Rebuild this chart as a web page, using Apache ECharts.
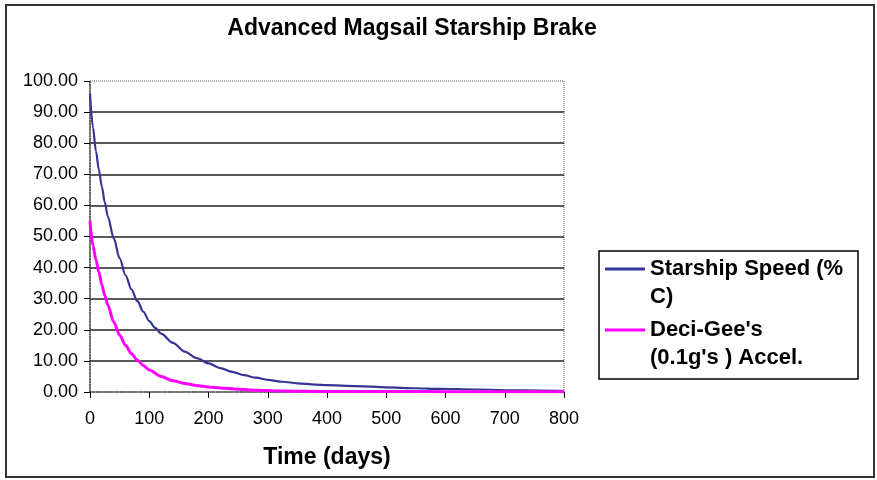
<!DOCTYPE html>
<html>
<head>
<meta charset="utf-8">
<title>Advanced Magsail Starship Brake</title>
<script src="https://cdn.jsdelivr.net/npm/echarts@6/dist/echarts.min.js"></script>
<style>
  html, body { margin: 0; padding: 0; background: #fff; }
  #chart { width: 877px; height: 480px; }
</style>
</head>
<body>
<div id="chart"></div>
<script>
// 数据
const speedDays = [0, 5, 10, 15, 20, 25, 30, 40, 50, 60, 70, 80, 90, 100, 110, 120, 140, 160, 180, 200,
  220, 240, 260, 280, 300, 325, 350, 380, 400, 450, 500, 550, 590, 650, 730, 800]
const speedValues = [96, 85, 77.5, 71.5, 66, 61, 56.5, 49.5, 43, 37.5, 33, 29.2, 25.8, 22.8, 20.6, 18.8, 15.8, 13, 10.9, 9.2,
  7.7, 6.5, 5.4, 4.6, 3.9, 3.3, 2.8, 2.4, 2.2, 1.9, 1.5, 1.2, 1.0, 0.8, 0.5, 0.3]

const accelDays = [0, 5, 10, 15, 20, 25, 30, 40, 50, 60, 70, 80, 90, 100, 120, 140, 160, 180, 200, 220,
  250, 280, 320, 400, 500, 600, 700, 800]
const accelValues = [55, 47, 42.5, 38.5, 34.5, 31, 28, 22.5, 18.3, 15, 12.3, 10.2, 8.5, 7.1, 5, 3.6, 2.7, 2.1, 1.6, 1.3,
  0.9, 0.6, 0.35, 0.2, 0.15, 0.1, 0.1, 0.1]

const seriesNames = ["Starship Speed (% C)", "Deci-Gee's (0.1g's ) Accel."]
const legendLabels = ['Starship Speed (%\nC)', "Deci-Gee's\n(0.1g's ) Accel."]
const colors = ['#353595', '#ff00ff']

const font = 'Arial, "Liberation Sans", sans-serif'
// 图例图标: 线段在第一行高度 (加极小点撑开高度)
const legendIcon = 'path://M0,0h0.01v0.01h-0.01z M0,12.5H40V15.5H0Z M0,55.99h0.01V56h-0.01z'

const zip = (xs, ys) => xs.map((x, i) => [x, ys[i]])

const chart = echarts.init(document.getElementById('chart'))

const option = {
  backgroundColor: '#fff',
  animation: false,
  color: colors,
  title: {
    text: 'Advanced Magsail Starship Brake',
    left: 412,
    top: 17,
    padding: 0,
    textAlign: 'center',
    textStyle: { fontFamily: font, fontSize: 23, fontWeight: 'bold', color: '#000' }
  },
  grid: {
    left: 90, right: 313, top: 81, bottom: 88,
    show: true,
    borderColor: '#555',
    borderWidth: 1,
    borderType: 'dotted'
  },
  legend: {
    orient: 'vertical',
    left: 605,
    top: 255,
    padding: 0,
    itemGap: 5,
    itemWidth: 40,
    itemHeight: 56,
    icon: legendIcon,
    itemStyle: { borderWidth: 0 },
    data: seriesNames,
    formatter: name => legendLabels[seriesNames.indexOf(name)],
    textStyle: { fontFamily: font, fontSize: 22, fontWeight: 'bold', color: '#000', lineHeight: 28 }
  },
  xAxis: {
    type: 'value',
    min: 0, max: 800, interval: 100,
    name: 'Time (days)',
    nameLocation: 'middle',
    nameGap: 54,
    nameTextStyle: { fontFamily: font, fontSize: 23, fontWeight: 'bold', color: '#000' },
    axisLine: { lineStyle: { color: '#444', type: 'dotted', width: 1.5 } },
    axisTick: { length: 6, lineStyle: { color: '#000' } },
    axisLabel: { fontFamily: font, fontSize: 18, color: '#000', margin: 18 },
    splitLine: { show: false }
  },
  yAxis: {
    type: 'value',
    min: 0, max: 100, interval: 10,
    axisLine: { show: true, lineStyle: { color: '#444', type: 'dotted', width: 1.5 } },
    axisTick: { show: true, length: 6, lineStyle: { color: '#000' } },
    axisLabel: { fontFamily: font, fontSize: 18, color: '#000', margin: 12, formatter: v => v.toFixed(2) },
    splitLine: { show: true, showMinLine: false, showMaxLine: false, lineStyle: { color: '#222', width: 1.5 } }
  },
  graphic: [
    // 外框
    { type: 'rect', shape: { x: 6, y: 5, width: 868, height: 472 }, style: { fill: 'none', stroke: '#333', lineWidth: 2 }, silent: true },
    // 图例框
    { type: 'rect', shape: { x: 599, y: 251, width: 259, height: 128 }, style: { fill: 'none', stroke: '#000', lineWidth: 1.5 }, silent: true }
  ],
  series: [
    {
      name: seriesNames[0],
      type: 'line',
      showSymbol: false,
      smooth: 0.3,
      smoothMonotone: 'x',
      lineStyle: { width: 2.2, color: colors[0] },
      data: zip(speedDays, speedValues)
    },
    {
      name: seriesNames[1],
      type: 'line',
      showSymbol: false,
      smooth: 0.3,
      smoothMonotone: 'x',
      lineStyle: { width: 3, color: colors[1] },
      data: zip(accelDays, accelValues)
    }
  ]
}

chart.setOption(option)
</script>
</body>
</html>
